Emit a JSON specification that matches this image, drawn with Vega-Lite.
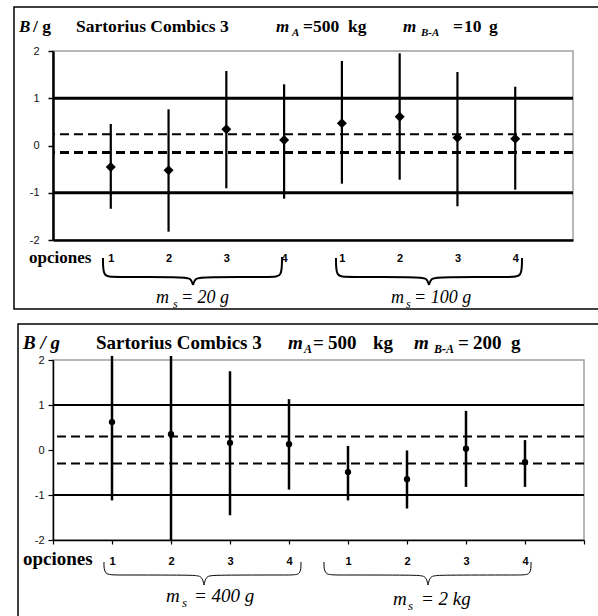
{
  "$schema": "https://vega.github.io/schema/vega-lite/v6.json",
  "padding": {"left": 12, "top": 5, "right": 0, "bottom": 0},
  "background": "white",
  "spacing": 11,
  "config": {
    "view": {"stroke": "#a0a0a0", "strokeWidth": 1.5},
    "axis": {"grid": false, "labelFont": "Liberation Sans", "labelFontSize": 11, "labelColor": "#111", "domainColor": "black", "tickColor": "black"}
  },
  "datasets": {
    "frame_top": [{"x1": -0.675, "x2": 9.65, "y1": 2.93, "y2": -3.46}],
    "frame_bot": [{"x1": -0.593, "x2": 9.45, "y1": 2.8, "y2": -3.8}],
    "pts_top": [
      {"pos": 1, "ms": "20 g", "opcion": 1, "B": -0.455, "lo": -1.339, "hi": 0.455},
      {"pos": 2, "ms": "20 g", "opcion": 2, "B": -0.526, "lo": -1.824, "hi": 0.766},
      {"pos": 3, "ms": "20 g", "opcion": 3, "B": 0.343, "lo": -0.906, "hi": 1.577},
      {"pos": 4, "ms": "20 g", "opcion": 4, "B": 0.116, "lo": -1.126, "hi": 1.295},
      {"pos": 5, "ms": "100 g", "opcion": 1, "B": 0.47, "lo": -0.808, "hi": 1.788},
      {"pos": 6, "ms": "100 g", "opcion": 2, "B": 0.61, "lo": -0.724, "hi": 1.951},
      {"pos": 7, "ms": "100 g", "opcion": 3, "B": 0.165, "lo": -1.287, "hi": 1.556},
      {"pos": 8, "ms": "100 g", "opcion": 4, "B": 0.144, "lo": -0.935, "hi": 1.244}
    ],
    "pts_bot": [
      {"pos": 1, "ms": "400 g", "opcion": 1, "B": 0.62, "lo": -1.12, "hi": 2.09},
      {"pos": 2, "ms": "400 g", "opcion": 2, "B": 0.35, "lo": -2.0, "hi": 2.09},
      {"pos": 3, "ms": "400 g", "opcion": 3, "B": 0.16, "lo": -1.45, "hi": 1.75},
      {"pos": 4, "ms": "400 g", "opcion": 4, "B": 0.13, "lo": -0.88, "hi": 1.13},
      {"pos": 5, "ms": "2 kg", "opcion": 1, "B": -0.49, "lo": -1.12, "hi": 0.09},
      {"pos": 6, "ms": "2 kg", "opcion": 2, "B": -0.65, "lo": -1.3, "hi": -0.01},
      {"pos": 7, "ms": "2 kg", "opcion": 3, "B": 0.03, "lo": -0.82, "hi": 0.87},
      {"pos": 8, "ms": "2 kg", "opcion": 4, "B": -0.27, "lo": -0.82, "hi": 0.22}
    ],
    "lines_top": [
      {"y": 1, "tipo": "limite"}, {"y": -1, "tipo": "limite"},
      {"y": 0.24, "tipo": "U"}, {"y": -0.15, "tipo": "U"}
    ],
    "lines_bot": [
      {"y": 1, "tipo": "limite"}, {"y": -1, "tipo": "limite"},
      {"y": 0.3, "tipo": "U"}, {"y": -0.3, "tipo": "U"}
    ],
    "brace_top": [
      {"b": "1L", "o": 1, "x": 0.865, "y": -2.381}, {"b": "1L", "o": 2, "x": 0.865, "y": -2.783}, {"b": "1L", "o": 3, "x": 1.038, "y": -2.783}, {"b": "1L", "o": 4, "x": 2.25, "y": -2.783}, {"b": "1L", "o": 5, "x": 2.388, "y": -2.804}, {"b": "1L", "o": 6, "x": 2.423, "y": -2.952},
      {"b": "1R", "o": 1, "x": 2.423, "y": -2.952}, {"b": "1R", "o": 2, "x": 2.458, "y": -2.804}, {"b": "1R", "o": 3, "x": 2.596, "y": -2.783}, {"b": "1R", "o": 4, "x": 3.808, "y": -2.783}, {"b": "1R", "o": 5, "x": 3.963, "y": -2.783}, {"b": "1R", "o": 6, "x": 3.963, "y": -2.36},
      {"b": "2L", "o": 1, "x": 4.898, "y": -2.381}, {"b": "2L", "o": 2, "x": 4.898, "y": -2.783}, {"b": "2L", "o": 3, "x": 5.071, "y": -2.783}, {"b": "2L", "o": 4, "x": 6.334, "y": -2.783}, {"b": "2L", "o": 5, "x": 6.473, "y": -2.804}, {"b": "2L", "o": 6, "x": 6.507, "y": -2.952},
      {"b": "2R", "o": 1, "x": 6.507, "y": -2.952}, {"b": "2R", "o": 2, "x": 6.542, "y": -2.804}, {"b": "2R", "o": 3, "x": 6.681, "y": -2.783}, {"b": "2R", "o": 4, "x": 7.944, "y": -2.783}, {"b": "2R", "o": 5, "x": 8.117, "y": -2.783}, {"b": "2R", "o": 6, "x": 8.117, "y": -2.381}
    ],
    "brace_bot": [
      {"b": "1L", "o": 1, "x": 0.864, "y": -2.489}, {"b": "1L", "o": 2, "x": 0.864, "y": -2.778}, {"b": "1L", "o": 3, "x": 1.068, "y": -2.778}, {"b": "1L", "o": 4, "x": 2.39, "y": -2.778}, {"b": "1L", "o": 5, "x": 2.525, "y": -2.8}, {"b": "1L", "o": 6, "x": 2.559, "y": -3.0},
      {"b": "1R", "o": 1, "x": 2.559, "y": -3.0}, {"b": "1R", "o": 2, "x": 2.593, "y": -2.8}, {"b": "1R", "o": 3, "x": 2.729, "y": -2.778}, {"b": "1R", "o": 4, "x": 4.034, "y": -2.778}, {"b": "1R", "o": 5, "x": 4.203, "y": -2.778}, {"b": "1R", "o": 6, "x": 4.203, "y": -2.489},
      {"b": "2L", "o": 1, "x": 4.593, "y": -2.489}, {"b": "2L", "o": 2, "x": 4.593, "y": -2.778}, {"b": "2L", "o": 3, "x": 4.797, "y": -2.778}, {"b": "2L", "o": 4, "x": 6.186, "y": -2.778}, {"b": "2L", "o": 5, "x": 6.322, "y": -2.8}, {"b": "2L", "o": 6, "x": 6.356, "y": -3.0},
      {"b": "2R", "o": 1, "x": 6.356, "y": -3.0}, {"b": "2R", "o": 2, "x": 6.39, "y": -2.8}, {"b": "2R", "o": 3, "x": 6.525, "y": -2.778}, {"b": "2R", "o": 4, "x": 7.932, "y": -2.778}, {"b": "2R", "o": 5, "x": 8.102, "y": -2.778}, {"b": "2R", "o": 6, "x": 8.102, "y": -2.489}
    ],
    "txt_top": [
      {"role": "ti", "text": "B", "x": -0.588, "y": 2.402},
      {"role": "ti", "text": "m", "x": 3.859, "y": 2.402},
      {"role": "ti", "text": "m", "x": 6.057, "y": 2.402},
      {"role": "tr", "text": "/ g", "x": -0.346, "y": 2.402},
      {"role": "tr", "text": "Sartorius Combics 3", "x": 0.398, "y": 2.402},
      {"role": "tr", "text": "=", "x": 4.327, "y": 2.402},
      {"role": "tr", "text": "500", "x": 4.5, "y": 2.402},
      {"role": "tr", "text": "kg", "x": 5.106, "y": 2.402},
      {"role": "tr", "text": "=", "x": 6.923, "y": 2.402},
      {"role": "tr", "text": "10", "x": 7.113, "y": 2.402},
      {"role": "tr", "text": "g", "x": 7.546, "y": 2.402},
      {"role": "sub", "text": "A", "x": 4.136, "y": 2.317},
      {"role": "sub", "text": "B-A", "x": 6.369, "y": 2.317},
      {"role": "op", "text": "opciones", "x": -0.415, "y": -2.487},
      {"role": "ms", "text": "m", "x": 1.783, "y": -3.333},
      {"role": "ms", "text": "= 20 g", "x": 2.215, "y": -3.333},
      {"role": "ms", "text": "m", "x": 5.85, "y": -3.333},
      {"role": "ms", "text": "= 100 g", "x": 6.248, "y": -3.333},
      {"role": "mss", "text": "s", "x": 2.077, "y": -3.439},
      {"role": "mss", "text": "s", "x": 6.109, "y": -3.439}
    ],
    "txt_bot": [
      {"role": "ti", "text": "B / g", "x": -0.508, "y": 2.244},
      {"role": "ti", "text": "m", "x": 3.983, "y": 2.244},
      {"role": "ti", "text": "m", "x": 6.119, "y": 2.244},
      {"role": "tr", "text": "Sartorius Combics 3", "x": 0.729, "y": 2.244},
      {"role": "tr", "text": "=", "x": 4.407, "y": 2.244},
      {"role": "tr", "text": "500", "x": 4.661, "y": 2.244},
      {"role": "tr", "text": "kg", "x": 5.424, "y": 2.244},
      {"role": "tr", "text": "=", "x": 6.864, "y": 2.244},
      {"role": "tr", "text": "200", "x": 7.119, "y": 2.244},
      {"role": "tr", "text": "g", "x": 7.763, "y": 2.244},
      {"role": "sub", "text": "A", "x": 4.254, "y": 2.156},
      {"role": "sub", "text": "B-A", "x": 6.458, "y": 2.156},
      {"role": "op", "text": "opciones", "x": -0.508, "y": -2.556},
      {"role": "ms", "text": "m", "x": 1.915, "y": -3.378},
      {"role": "ms", "text": "= 400 g", "x": 2.39, "y": -3.378},
      {"role": "ms", "text": "m", "x": 5.763, "y": -3.444},
      {"role": "ms", "text": "= 2 kg", "x": 6.237, "y": -3.444},
      {"role": "mss", "text": "s", "x": 2.186, "y": -3.489},
      {"role": "mss", "text": "s", "x": 6.017, "y": -3.556}
    ]
  },
  "vconcat": [
    {
      "width": 520,
      "height": 189,
      "layer": [
        {
          "data": {"name": "frame_top"},
          "mark": {"type": "rect", "filled": false, "stroke": "black", "strokeWidth": 1.5, "fillOpacity": 0},
          "encoding": {
            "x": {"field": "x1", "type": "quantitative", "scale": {"domain": [0, 9], "nice": false, "zero": false},
              "axis": {"title": null, "values": [1, 2, 3, 4, 5, 6, 7, 8], "labelExpr": "'' + (datum.value > 4 ? datum.value - 4 : datum.value)", "ticks": false, "domainWidth": 2.5, "labelFontWeight": "bold", "labelColor": "black", "labelPadding": 12, "labelFontSize": 11}},
            "x2": {"field": "x2"},
            "y": {"field": "y1", "type": "quantitative", "scale": {"domain": [-2, 2], "nice": false, "zero": false},
              "axis": {"title": null, "values": [-2, -1, 0, 1, 2], "labelExpr": "datum.value < 0 ? '-' + abs(datum.value) : '' + datum.value", "domainWidth": 2.5, "tickSize": 5, "tickWidth": 1.5, "labelPadding": 9}},
            "y2": {"field": "y2"}
          }
        },
        {
          "data": {"name": "lines_top"},
          "transform": [{"filter": "datum.tipo == 'limite'"}],
          "mark": {"type": "rule", "color": "black", "strokeWidth": 2.8},
          "encoding": {"y": {"field": "y", "type": "quantitative"}}
        },
        {
          "data": {"name": "lines_top"},
          "transform": [{"filter": "datum.tipo == 'U'"}],
          "mark": {"type": "rule", "color": "black", "strokeDash": [9, 5]},
          "encoding": {
            "y": {"field": "y", "type": "quantitative"},
            "strokeWidth": {"condition": {"test": "datum.y < 0", "value": 3}, "value": 2}
          }
        },
        {
          "data": {"name": "pts_top"},
          "mark": {"type": "rule", "color": "black", "strokeWidth": 2.2},
          "encoding": {
            "x": {"field": "pos", "type": "quantitative"},
            "y": {"field": "lo", "type": "quantitative"},
            "y2": {"field": "hi"}
          }
        },
        {
          "data": {"name": "pts_top"},
          "mark": {"type": "point", "shape": "diamond", "filled": true, "color": "black", "size": 100, "opacity": 1},
          "encoding": {
            "x": {"field": "pos", "type": "quantitative"},
            "y": {"field": "B", "type": "quantitative"}
          }
        },
        {
          "data": {"name": "brace_top"},
          "mark": {"type": "line", "interpolate": "basis", "color": "black", "strokeWidth": 2},
          "encoding": {
            "x": {"field": "x", "type": "quantitative"},
            "y": {"field": "y", "type": "quantitative"},
            "detail": {"field": "b"},
            "order": {"field": "o", "type": "quantitative"}
          }
        },
        {
          "data": {"name": "txt_top"},
          "transform": [{"filter": "datum.role == 'ti'"}],
          "mark": {"type": "text", "align": "left", "baseline": "alphabetic", "font": "Liberation Serif", "fontWeight": "bold", "fontStyle": "italic", "fontSize": 17, "color": "black"},
          "encoding": {"x": {"field": "x", "type": "quantitative"}, "y": {"field": "y", "type": "quantitative"}, "text": {"field": "text"}}
        },
        {
          "data": {"name": "txt_top"},
          "transform": [{"filter": "datum.role == 'tr'"}],
          "mark": {"type": "text", "align": "left", "baseline": "alphabetic", "font": "Liberation Serif", "fontWeight": "bold", "fontSize": 17.5, "color": "black"},
          "encoding": {"x": {"field": "x", "type": "quantitative"}, "y": {"field": "y", "type": "quantitative"}, "text": {"field": "text"}}
        },
        {
          "data": {"name": "txt_top"},
          "transform": [{"filter": "datum.role == 'sub'"}],
          "mark": {"type": "text", "align": "left", "baseline": "alphabetic", "font": "Liberation Serif", "fontWeight": "bold", "fontStyle": "italic", "fontSize": 11, "color": "black"},
          "encoding": {"x": {"field": "x", "type": "quantitative"}, "y": {"field": "y", "type": "quantitative"}, "text": {"field": "text"}}
        },
        {
          "data": {"name": "txt_top"},
          "transform": [{"filter": "datum.role == 'op'"}],
          "mark": {"type": "text", "align": "left", "baseline": "alphabetic", "font": "Liberation Serif", "fontWeight": "bold", "fontSize": 17, "color": "black"},
          "encoding": {"x": {"field": "x", "type": "quantitative"}, "y": {"field": "y", "type": "quantitative"}, "text": {"field": "text"}}
        },
        {
          "data": {"name": "txt_top"},
          "transform": [{"filter": "datum.role == 'ms'"}],
          "mark": {"type": "text", "align": "left", "baseline": "alphabetic", "font": "Liberation Serif", "fontStyle": "italic", "fontSize": 18, "color": "black"},
          "encoding": {"x": {"field": "x", "type": "quantitative"}, "y": {"field": "y", "type": "quantitative"}, "text": {"field": "text"}}
        },
        {
          "data": {"name": "txt_top"},
          "transform": [{"filter": "datum.role == 'mss'"}],
          "mark": {"type": "text", "align": "left", "baseline": "alphabetic", "font": "Liberation Serif", "fontStyle": "italic", "fontSize": 12, "color": "black"},
          "encoding": {"x": {"field": "x", "type": "quantitative"}, "y": {"field": "y", "type": "quantitative"}, "text": {"field": "text"}}
        }
      ]
    },
    {
      "width": 531,
      "height": 180,
      "layer": [
        {
          "data": {"name": "frame_bot"},
          "mark": {"type": "rect", "filled": false, "stroke": "black", "strokeWidth": 1.5, "fillOpacity": 0},
          "encoding": {
            "x": {"field": "x1", "type": "quantitative", "scale": {"domain": [0, 9], "nice": false, "zero": false},
              "axis": {"title": null, "values": [0, 1, 2, 3, 4, 5, 6, 7, 8, 9], "labelExpr": "datum.value < 1 || datum.value > 8 ? '' : '' + (datum.value > 4 ? datum.value - 4 : datum.value)", "tickSize": 4, "tickWidth": 1.2, "domainWidth": 1.5, "labelFontWeight": "bold", "labelColor": "black", "labelPadding": 11, "labelFontSize": 11}},
            "x2": {"field": "x2"},
            "y": {"field": "y1", "type": "quantitative", "scale": {"domain": [-2, 2], "nice": false, "zero": false},
              "axis": {"title": null, "values": [-2, -1, 0, 1, 2], "labelExpr": "datum.value < 0 ? '-' + abs(datum.value) : '' + datum.value", "domainWidth": 1.5, "tickSize": 5, "tickWidth": 1.2, "labelPadding": 4}},
            "y2": {"field": "y2"}
          }
        },
        {
          "data": {"name": "lines_bot"},
          "transform": [{"filter": "datum.tipo == 'limite'"}],
          "mark": {"type": "rule", "color": "black", "strokeWidth": 2.2},
          "encoding": {"y": {"field": "y", "type": "quantitative"}}
        },
        {
          "data": {"name": "lines_bot"},
          "transform": [{"filter": "datum.tipo == 'U'"}],
          "mark": {"type": "rule", "color": "black", "strokeDash": [9, 5], "strokeWidth": 2},
          "encoding": {"y": {"field": "y", "type": "quantitative"}}
        },
        {
          "data": {"name": "pts_bot"},
          "mark": {"type": "rule", "color": "black", "strokeWidth": 2.5},
          "encoding": {
            "x": {"field": "pos", "type": "quantitative"},
            "y": {"field": "lo", "type": "quantitative"},
            "y2": {"field": "hi"}
          }
        },
        {
          "data": {"name": "pts_bot"},
          "mark": {"type": "point", "shape": "circle", "filled": true, "color": "black", "size": 40, "opacity": 1},
          "encoding": {
            "x": {"field": "pos", "type": "quantitative"},
            "y": {"field": "B", "type": "quantitative"}
          }
        },
        {
          "data": {"name": "brace_bot"},
          "mark": {"type": "line", "interpolate": "basis", "color": "black", "strokeWidth": 1},
          "encoding": {
            "x": {"field": "x", "type": "quantitative"},
            "y": {"field": "y", "type": "quantitative"},
            "detail": {"field": "b"},
            "order": {"field": "o", "type": "quantitative"}
          }
        },
        {
          "data": {"name": "txt_bot"},
          "transform": [{"filter": "datum.role == 'ti'"}],
          "mark": {"type": "text", "align": "left", "baseline": "alphabetic", "font": "Liberation Serif", "fontWeight": "bold", "fontStyle": "italic", "fontSize": 19, "color": "black"},
          "encoding": {"x": {"field": "x", "type": "quantitative"}, "y": {"field": "y", "type": "quantitative"}, "text": {"field": "text"}}
        },
        {
          "data": {"name": "txt_bot"},
          "transform": [{"filter": "datum.role == 'tr'"}],
          "mark": {"type": "text", "align": "left", "baseline": "alphabetic", "font": "Liberation Serif", "fontWeight": "bold", "fontSize": 19, "color": "black"},
          "encoding": {"x": {"field": "x", "type": "quantitative"}, "y": {"field": "y", "type": "quantitative"}, "text": {"field": "text"}}
        },
        {
          "data": {"name": "txt_bot"},
          "transform": [{"filter": "datum.role == 'sub'"}],
          "mark": {"type": "text", "align": "left", "baseline": "alphabetic", "font": "Liberation Serif", "fontWeight": "bold", "fontStyle": "italic", "fontSize": 12, "color": "black"},
          "encoding": {"x": {"field": "x", "type": "quantitative"}, "y": {"field": "y", "type": "quantitative"}, "text": {"field": "text"}}
        },
        {
          "data": {"name": "txt_bot"},
          "transform": [{"filter": "datum.role == 'op'"}],
          "mark": {"type": "text", "align": "left", "baseline": "alphabetic", "font": "Liberation Serif", "fontWeight": "bold", "fontSize": 19, "color": "black"},
          "encoding": {"x": {"field": "x", "type": "quantitative"}, "y": {"field": "y", "type": "quantitative"}, "text": {"field": "text"}}
        },
        {
          "data": {"name": "txt_bot"},
          "transform": [{"filter": "datum.role == 'ms'"}],
          "mark": {"type": "text", "align": "left", "baseline": "alphabetic", "font": "Liberation Serif", "fontStyle": "italic", "fontSize": 19, "color": "black"},
          "encoding": {"x": {"field": "x", "type": "quantitative"}, "y": {"field": "y", "type": "quantitative"}, "text": {"field": "text"}}
        },
        {
          "data": {"name": "txt_bot"},
          "transform": [{"filter": "datum.role == 'mss'"}],
          "mark": {"type": "text", "align": "left", "baseline": "alphabetic", "font": "Liberation Serif", "fontStyle": "italic", "fontSize": 13, "color": "black"},
          "encoding": {"x": {"field": "x", "type": "quantitative"}, "y": {"field": "y", "type": "quantitative"}, "text": {"field": "text"}}
        }
      ]
    }
  ]
}
